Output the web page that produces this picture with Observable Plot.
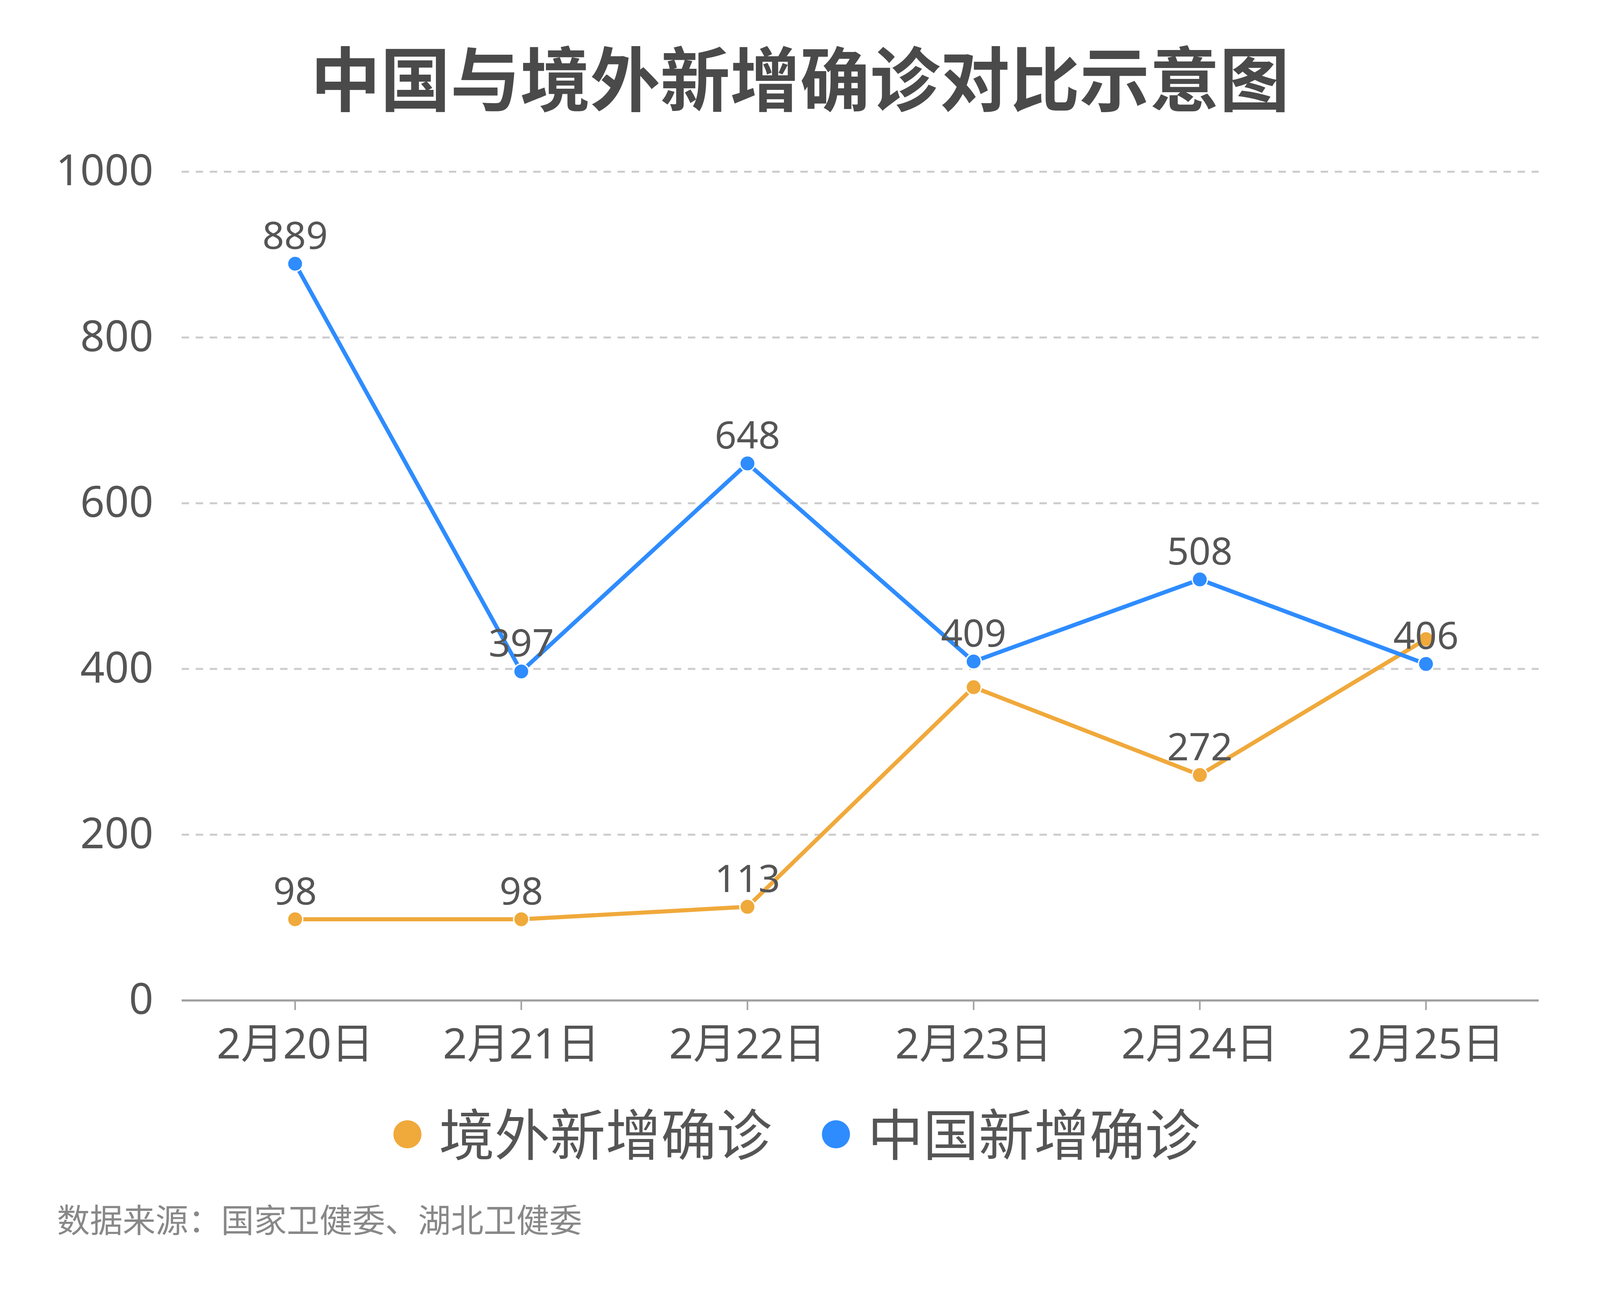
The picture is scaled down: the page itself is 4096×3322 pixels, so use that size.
<!DOCTYPE html>
<html>
<head>
<meta charset="utf-8">
<script src="https://cdn.jsdelivr.net/npm/d3@7"></script>
<script src="https://cdn.jsdelivr.net/npm/@observablehq/plot@0.6"></script>
<style>
html,body{margin:0;padding:0;background:#fff;}
body{width:4096px;height:3322px;position:relative;overflow:hidden;font-family:"Noto Sans CJK SC","Noto Sans",sans-serif;}
#title{position:absolute;left:0;top:104px;width:4096px;text-align:center;font-size:179px;line-height:179px;font-weight:700;color:#4a4a4a;white-space:nowrap;}
#chart{position:absolute;left:0;top:0;}
.leg{position:absolute;top:2824px;display:flex;align-items:center;height:142px;font-size:142px;line-height:142px;color:#555;white-space:nowrap;}
.sw{width:72px;height:72px;border-radius:50%;margin-right:45px;position:relative;top:8px;flex:none;}
#source{position:absolute;left:146px;top:3076px;font-size:84px;line-height:84px;color:#888;white-space:nowrap;}
</style>
</head>
<body>
<div id="title"></div>
<div id="chart"></div>
<div id="legend"></div>
<div id="source"></div>
<script>
// ---- data ----
const titleText = "中国与境外新增确诊对比示意图";
const sourceText = "数据来源：国家卫健委、湖北卫健委";
const dates = ["2月20日", "2月21日", "2月22日", "2月23日", "2月24日", "2月25日"];
const seriesNames = ["境外新增确诊", "中国新增确诊"];
const overseas = [98, 98, 113, 378, 272, 436];
const china = [889, 397, 648, 409, 508, 406];
const overseasLabelShown = [true, true, true, false, true, false];
const chinaLabelShown = [true, true, true, true, true, true];
const yTicks = [0, 200, 400, 600, 800, 1000];
const seriesColors = ["#f0a93b", "#2e8cff"];

// ---- build table ----
const rows = [];
[overseas, china].forEach((vals, si) => {
  const shown = si === 0 ? overseasLabelShown : chinaLabelShown;
  vals.forEach((v, i) => rows.push({series: seriesNames[si], date: dates[i], value: v, shown: shown[i]}));
});

document.getElementById("title").textContent = titleText;
document.getElementById("source").textContent = sourceText;

const font = "'Noto Sans', 'Noto Sans CJK SC', sans-serif";

const chart = Plot.plot({
  width: 4096,
  height: 2800,
  marginLeft: 465,
  marginRight: 157,
  marginTop: 439,
  marginBottom: 240,
  style: {fontFamily: font, background: "transparent", overflow: "visible"},
  x: {type: "point", domain: dates, padding: 0.5},
  y: {domain: [0, 1000]},
  color: {domain: seriesNames, range: seriesColors},
  marks: [
    Plot.gridY(yTicks.filter(t => t > 0), {stroke: "#cccccc", strokeOpacity: 1, strokeWidth: 5, strokeDasharray: "19,17"}),
    Plot.ruleY([0], {stroke: "#a0a0a0", strokeWidth: 5.5}),
    Plot.axisY(yTicks, {tickSize: 0, tickPadding: 73, fontSize: 109, fill: "#555", label: null, tickFormat: d => String(d)}),
    Plot.axisX(dates, {tickSize: 25, tickPadding: 47, fontSize: 108, fill: "#555", stroke: "#a0a0a0", strokeWidth: 4, label: null}),
    Plot.lineY(rows, {x: "date", y: "value", z: "series", stroke: "series", strokeWidth: 10.5, strokeLinejoin: "round", strokeLinecap: "round"}),
    Plot.dot(rows, {x: "date", y: "value", fill: "series", stroke: "white", strokeWidth: 3.5, r: 19.5}),
    Plot.text(rows.filter(d => d.shown), {x: "date", y: "value", text: d => String(d.value), dy: -38, lineAnchor: "bottom", textAnchor: "middle", fontSize: 97.5, fill: "#555"})
  ]
});
document.getElementById("chart").appendChild(chart);

// ---- legend ----
const legendLefts = [1007, 2104];
const legend = document.getElementById("legend");
seriesNames.forEach((name, i) => {
  const item = document.createElement("div");
  item.className = "leg";
  item.style.left = legendLefts[i] + "px";
  const sw = document.createElement("span");
  sw.className = "sw";
  sw.style.background = seriesColors[i];
  const tx = document.createElement("span");
  tx.textContent = name;
  item.appendChild(sw);
  item.appendChild(tx);
  legend.appendChild(item);
});
</script>
</body>
</html>
